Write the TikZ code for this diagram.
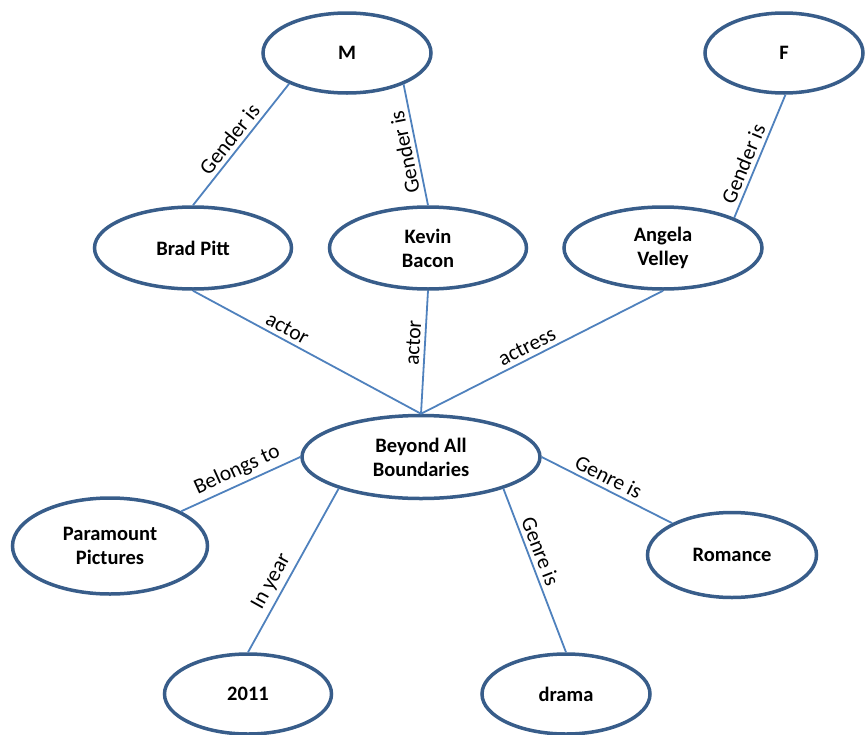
\documentclass[tikz,border=0pt]{standalone}
\usepackage{fontspec}
\setmainfont{Carlito}
\usetikzlibrary{shapes.geometric,positioning}
\definecolor{rim}{HTML}{385D8A}
\definecolor{link}{HTML}{4F81BD}

\begin{document}
\begin{tikzpicture}[x=1pt,y=-1pt,on grid,
  ent/.style={ellipse,draw=rim,line width=3.5pt,inner sep=1pt,align=center,
    font=\fontsize{20.5}{24}\selectfont\bfseries},
  lab/.style={sloped,above,inner sep=4pt,font=\fontsize{21.5}{24}\selectfont}]
 \useasboundingbox (0,0) rectangle (865,734);
 % genders
 \node[ent,minimum width=168pt,minimum height=80pt] (m) at (347,53) {M};
 \node[ent,minimum width=158pt,minimum height=80pt] (f) at (784,53) {F};
 % cast
 \node[ent,minimum width=197pt,minimum height=82pt] (brad) at (193,248) {Brad Pitt};
 \node[ent,minimum width=197pt,minimum height=82pt] (kevin) [right=235pt of brad] {Kevin\\Bacon};
 \node[ent,minimum width=198pt,minimum height=82pt] (angela) [right=235pt of kevin] {Angela\\Velley};
 % film
 \node[ent,minimum width=238pt,minimum height=83pt] (film) at (421,457) {Beyond All\\Boundaries};
 \node[ent,minimum width=195pt,minimum height=96pt] (studio) at (110,546) {Paramount\\Pictures};
 \node[ent,minimum width=169pt,minimum height=85pt] (romance) at (732,555) {Romance};
 \node[ent,minimum width=167pt,minimum height=80pt] (year) at (248,694) {2011};
 \node[ent,minimum width=168pt,minimum height=80pt] (drama) at (566,694) {drama};
 \path[draw=link,line width=1.8pt]
 (brad.north) edge node[lab,pos=0.48] {Gender is} (m.208)
 (kevin.north) edge node[lab,pos=0.46,allow upside down] {Gender is} (m.331)
 (angela.23) edge node[lab,pos=0.40] {Gender is} (f.-88)
 (brad.south) edge node[lab,pos=0.39] {actor} (film.north)
 (film.north) edge node[lab,pos=0.57] {actor} (kevin.south)
 (film.north) edge node[lab,pos=0.46] {actress} (angela.south)
 (studio.26.6) edge node[lab,pos=0.52] {Belongs to} (film.west)
 (year.north) edge node[lab,pos=0.39] {In year} (film.201)
 (film.-21.3) edge node[lab,pos=0.41] {Genre is} (drama.north)
 (film.east) edge node[lab,pos=0.47] {Genre is} (romance.152.3);
\end{tikzpicture}
\end{document}
